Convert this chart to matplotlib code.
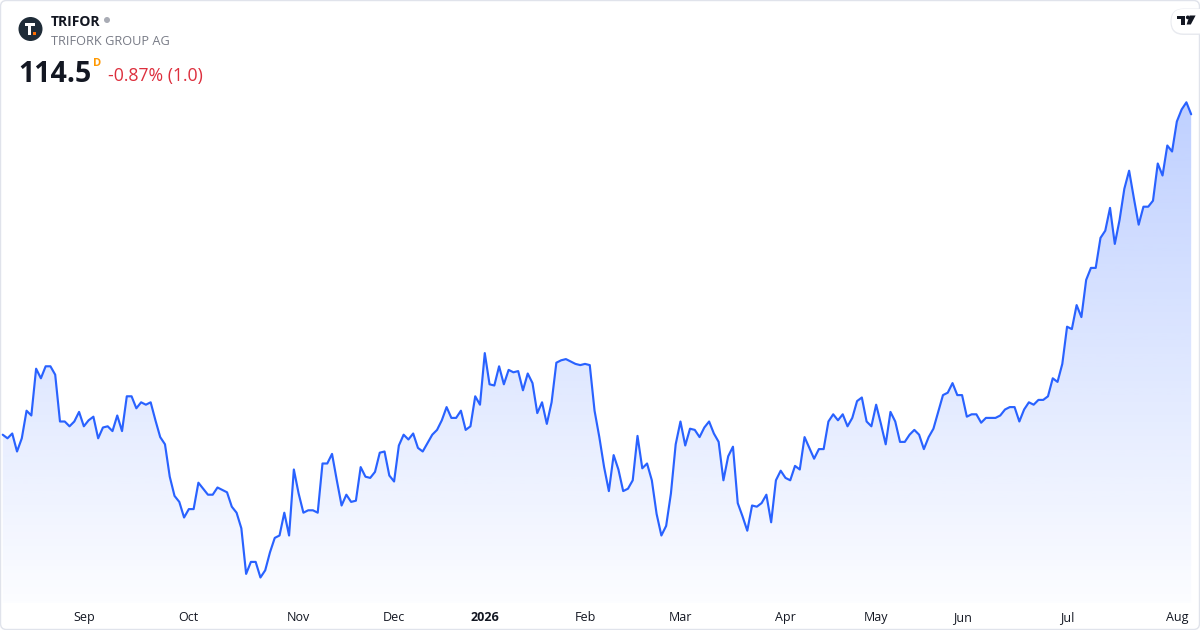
import numpy as np
import pandas as pd
import matplotlib
matplotlib.use("Agg")
import matplotlib.pyplot as plt
import matplotlib.transforms as mtransforms
from matplotlib.patches import FancyBboxPatch, Circle, Rectangle, Polygon

FONT = ["Open Sans", "DejaVu Sans"]
plt.rcParams["font.family"] = FONT

# ---- data ----
ticker = "TRIFOR"
company = "TRIFORK GROUP AG"
last_price = "114.5"
change_text = "-0.87% (1.0)"

prices = [
    87.8, 87.5, 87.9, 86.4, 87.5, 89.8, 89.4, 93.3, 92.5, 93.5,
    93.5, 92.8, 88.9, 88.9, 88.5, 88.9, 89.7, 88.5, 89.0, 89.3,
    87.5, 88.4, 88.5, 88.1, 89.4, 88.1, 91.0, 91.0, 90.0, 90.5,
    90.3, 90.5, 89.0, 87.6, 87.0, 84.3, 82.7, 82.2, 80.9, 81.6,
    81.6, 83.8, 83.3, 82.8, 82.8, 83.4, 83.2, 83.0, 81.8, 81.3,
    80.0, 76.2, 77.2, 77.2, 75.9, 76.5, 78.0, 79.2, 79.4, 81.3,
    79.4, 84.9, 82.9, 81.3, 81.5, 81.5, 81.3, 85.4, 85.4, 86.2,
    84.0, 81.9, 82.8, 82.2, 82.3, 85.1, 84.3, 84.2, 84.7, 86.3,
    86.4, 84.4, 83.9, 86.9, 87.8, 87.4, 87.9, 86.7, 86.4, 87.1,
    87.8, 88.2, 89.0, 90.1, 89.2, 89.2, 89.8, 88.2, 88.5, 91.0,
    90.3, 94.6, 92.0, 91.9, 93.5, 92.0, 93.2, 93.0, 93.1, 91.5,
    92.9, 92.1, 89.6, 90.5, 88.7, 90.5, 93.8, 94.0, 94.1, 93.9,
    93.7, 93.6, 93.7, 93.6, 89.8, 87.6, 85.1, 83.1, 86.1, 84.9,
    83.1, 83.3, 84.0, 87.7, 85.0, 85.4, 84.0, 81.2, 79.4, 80.2,
    82.9, 87.0, 88.9, 86.9, 88.3, 88.2, 87.6, 88.4, 88.9, 87.9,
    87.2, 84.0, 86.0, 86.8, 82.1, 81.0, 79.8, 81.9, 81.8, 82.1,
    82.8, 80.5, 84.0, 84.8, 84.2, 84.0, 85.2, 84.9, 87.6, 86.7,
    85.8, 86.6, 86.6, 88.9, 89.5, 89.0, 89.5, 88.5, 89.2, 90.6,
    90.9, 88.9, 88.5, 90.3, 88.7, 87.0, 89.7, 88.9, 87.2, 87.2,
    87.8, 88.2, 87.8, 86.6, 87.6, 88.3, 89.7, 91.1, 91.3, 92.1,
    91.1, 91.1, 89.3, 89.5, 89.5, 88.8, 89.2, 89.2, 89.2, 89.4,
    89.9, 90.1, 90.1, 88.9, 89.9, 90.5, 90.3, 90.7, 90.7, 91.0,
    92.5, 92.2, 93.7, 96.8, 96.6, 98.6, 97.6, 100.7, 101.7, 101.7,
    104.2, 104.8, 106.7, 103.7, 105.7, 108.3, 109.8, 107.5, 105.3, 106.8,
    106.8, 107.3, 110.4, 109.4, 111.9, 111.4, 113.9, 114.9, 115.5, 114.5,
]

market_holidays = ["2025-12-24", "2025-12-25", "2025-12-26", "2025-12-31",
                   "2026-01-01", "2026-04-02", "2026-04-03", "2026-04-06",
                   "2026-05-14", "2026-05-15", "2026-05-25"]
dates = pd.bdate_range("2025-08-07", "2026-08-06")
dates = dates[~dates.isin(pd.to_datetime(market_holidays))][:len(prices)]

# ---- figure ----
W, H = 1200, 630
fig = plt.figure(figsize=(W / 100, H / 100), dpi=100)
fig.patch.set_facecolor("white")

ax = fig.add_axes([0, 27 / H, 1, 603 / H])
ax.axis("off")
x = np.arange(len(prices))
x0, x1 = -0.566, 250.85
ylo, yhi = 73.775, 124.025
ax.set_xlim(x0, x1)
ax.set_ylim(ylo, yhi)

# gradient area
ymax = max(prices)
n = 256
g = np.linspace(0, 1, n).reshape(-1, 1)
img = np.zeros((n, 1, 4))
img[..., 0] = 41 / 255
img[..., 1] = 98 / 255
img[..., 2] = 1.0
img[..., 3] = 0.015 + g[:, :1] * (0.30 - 0.015)
im = ax.imshow(img, extent=[x0, x1, ylo, ymax], origin="lower",
               aspect="auto", zorder=1, interpolation="bilinear")
verts = [(x[0], ylo)] + list(zip(x, prices)) + [(x[-1], ylo)]
clip = Polygon(verts, closed=True, transform=ax.transData,
               facecolor="none", edgecolor="none")
ax.add_patch(clip)
im.set_clip_path(clip)

ax.plot(x, prices, color="#2962ff", lw=1.55, zorder=3,
        solid_joinstyle="round", solid_capstyle="round")

# overlay in pixel coordinates
ov = fig.add_axes([0, 0, 1, 1], zorder=5)
ov.set_xlim(0, W)
ov.set_ylim(H, 0)
ov.axis("off")
ov.patch.set_alpha(0)

# month labels
trans = mtransforms.blended_transform_factory(ax.transData, ov.transData)
months = dates.to_period("M")
for i in range(1, len(dates)):
    if months[i] != months[i - 1]:
        d = dates[i]
        if d.month == 1:
            ov.text(i, 617.5, str(d.year), transform=trans, ha="center",
                    va="center", fontsize=9, fontweight="bold", color="#131722")
        else:
            ov.text(i, 617.5, d.strftime("%b"), transform=trans, ha="center",
                    va="center", fontsize=9, color="#131722")

# border
ov.add_patch(FancyBboxPatch((0.5, 0.5), W - 1, H - 1,
                            boxstyle="round,pad=0,rounding_size=6",
                            facecolor="none", edgecolor="#e0e3eb", lw=1.0))

# logo
ov.add_patch(Circle((30.5, 29), 12, facecolor="#1f2c38", edgecolor="none"))
ov.add_patch(Rectangle((25, 23.3), 10, 3, facecolor="white", edgecolor="none"))
ov.add_patch(Rectangle((28.2, 26), 3.2, 9, facecolor="white", edgecolor="none"))
ov.add_patch(Rectangle((33.2, 32), 2.8, 2.8, facecolor="#ff6d00", edgecolor="none"))

# header texts
ov.text(51, 26, ticker, fontsize=10, fontweight="bold", color="#131722",
        ha="left", va="baseline")
ov.add_patch(Circle((107, 20), 3, facecolor="#a9acb5", edgecolor="none"))
ov.text(51, 45, company, fontsize=9.2, color="#787b86", ha="left", va="baseline")
ov.text(18, 81.5, last_price, fontsize=20.5, fontweight="bold", color="#131722",
        ha="left", va="baseline")
ov.text(93, 65.5, "D", fontsize=8, fontweight="bold", color="#ff9800",
        ha="left", va="baseline")
ov.text(108, 81, change_text, fontsize=12.7, color="#dd2f3d", ha="left",
        va="baseline")

# TradingView badge
ov.add_patch(FancyBboxPatch((1170.5, 8.5), 42, 26.5,
                            boxstyle="round,pad=0,rounding_size=13",
                            facecolor="#e6e8ee", edgecolor="none", alpha=0.9))
ov.add_patch(FancyBboxPatch((1171.5, 9), 41, 24.5,
                            boxstyle="round,pad=0,rounding_size=12",
                            facecolor="white", edgecolor="none"))
ov.add_patch(Polygon([(1177, 15.5), (1185.2, 15.5), (1185.2, 24.5), (1181.2, 24.5),
                      (1181.2, 19.2), (1177, 19.2)], closed=True,
                     facecolor="#131722", edgecolor="none"))
ov.add_patch(Circle((1187.8, 17.4), 1.9, facecolor="#131722", edgecolor="none"))
ov.add_patch(Polygon([(1189.6, 15.5), (1195.6, 15.5), (1190.8, 24.5),
                      (1186.6, 24.5)], closed=True,
                     facecolor="#131722", edgecolor="none"))

fig.savefig("out.png", dpi=100, facecolor="white")
